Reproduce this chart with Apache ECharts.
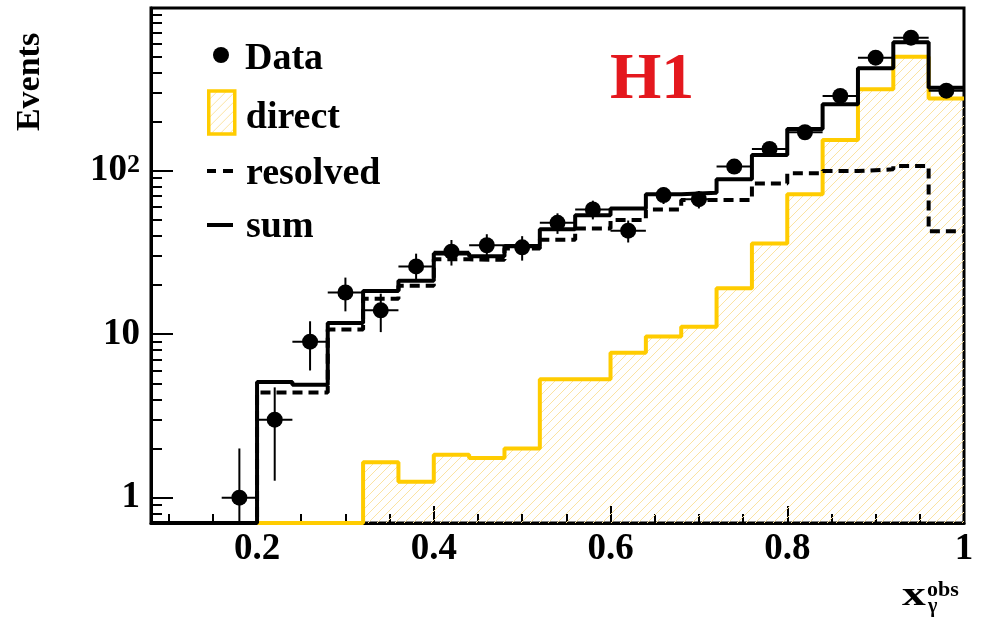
<!DOCTYPE html>
<html>
<head>
<meta charset="utf-8">
<script src="https://cdn.jsdelivr.net/npm/echarts@6/dist/echarts.min.js"></script>
<style>
  html, body { margin: 0; padding: 0; background: #fff; }
  #chart { width: 986px; height: 627px; }
</style>
</head>
<body>
<div id="chart"></div>
<script>
// Histogram bin edges in x_gamma^obs (bins of 0.04)
const binEdges = [0.08, 0.12, 0.16, 0.20, 0.24, 0.28, 0.32, 0.36, 0.40, 0.44, 0.48, 0.52,
                  0.56, 0.60, 0.64, 0.68, 0.72, 0.76, 0.80, 0.84, 0.88, 0.92, 0.96, 1.00];

// Monte Carlo predictions per bin (events)
const directMC   = [0, 0, 0, 0, 0, 0, 1.65, 1.25, 1.83, 1.75, 2.0, 5.3, 5.3, 7.7, 9.7, 11.1,
                    19.1, 35.9, 71.9, 154, 315, 499, 277];
const resolvedMC = [0, 0, 0, 4.4, 4.4, 10.7, 16.5, 19.8, 28.7, 28.5, 33.5, 37.8, 44.4, 49.9,
                    58.0, 66.2, 66.2, 83.7, 96.4, 99.6, 102, 107, 42.7];
const sumMC      = [0, 0, 0, 5.1, 4.9, 11.7, 18.4, 21.2, 31.2, 30.0, 34.6, 43.8, 53.5, 58.8,
                    71.9, 73.3, 88.6, 125, 180, 255, 424, 611, 322];

// Measured data: bin centres, counts and statistical errors
const dataX   = [0.18, 0.22, 0.26, 0.30, 0.34, 0.38, 0.42, 0.46, 0.50, 0.54, 0.58, 0.62,
                 0.66, 0.70, 0.74, 0.78, 0.82, 0.86, 0.90, 0.94, 0.98];
const dataY   = [1, 3, 9, 18, 14, 26, 32, 35, 34, 48, 58, 43, 71, 67, 106, 136, 172, 287, 492, 652, 309];
const dataErr = [1, 1.73, 3, 4.2, 3.7, 5.1, 5.7, 5.9, 5.8, 6.9, 7.6, 6.6, 8.4, 8.2, 10.3, 11.7,
                 13.1, 16.9, 22.2, 25.5, 17.6];
const binHalfWidth = 0.02;

// Axis ticks and labels
const xTickLabels = [0.2, 0.4, 0.6, 0.8, 1.0];
const xMinorTicks = [0.10, 0.15, 0.25, 0.30, 0.35, 0.45, 0.50, 0.55, 0.65, 0.70, 0.75, 0.85, 0.90, 0.95];
const yTickLabels = [1, 10, 100];
const yMinorTicks = [0.8, 0.9, 2, 3, 4, 5, 6, 7, 8, 9, 20, 30, 40, 50, 60, 70, 80, 90,
                     200, 300, 400, 500, 600, 700, 800, 900];

const xRange = [0.08, 1.0];
const yRange = [0.7, 990];

const SERIF = "'Liberation Serif', 'Times New Roman', 'DejaVu Serif', serif";
const YELLOW = '#ffcc00';

// Diagonal hatch used for the direct-photon histogram
const hatch = document.createElement('canvas');
hatch.width = 9; hatch.height = 9;
(function () {
  const g = hatch.getContext('2d');
  g.strokeStyle = '#fbe3a2';
  g.lineWidth = 1;
  g.beginPath();
  g.moveTo(0, 9); g.lineTo(9, 0);
  g.moveTo(-1, 1); g.lineTo(1, -1);
  g.moveTo(8, 10); g.lineTo(10, 8);
  g.stroke();
})();
const hatchFill = { image: hatch, repeat: 'repeat' };

// Step-histogram points: one per left edge plus the final right edge
function histPoints(values) {
  return binEdges.map(function (e, i) {
    const v = values[Math.min(i, values.length - 1)];
    return [e, v > 0 ? v : yRange[0]];
  });
}

const chart = echarts.init(document.getElementById('chart'), null, { renderer: 'canvas' });

const labelFont = { fontFamily: SERIF, fontWeight: 'bold', fontSize: 37, color: '#000' };

// One legend block per entry so each glyph can have its own size and text offset
function legendEntry(top, left, itemHeight, padTop, padLeft, item) {
  return {
    orient: 'vertical', left: left, top: top, itemWidth: 26, itemHeight: itemHeight, itemGap: 0,
    selectedMode: false, padding: 0,
    formatter: function (name) { return '{t|' + name + '}'; },
    textStyle: {
      fontFamily: SERIF, fontWeight: 'bold', fontSize: 38, color: '#000',
      rich: { t: { fontFamily: SERIF, fontWeight: 'bold', fontSize: 38, lineHeight: 38, color: '#000',
                   padding: [padTop, 0, 0, padLeft] } }
    },
    data: [item]
  };
}

// Legend glyphs for the line histograms
const iconSolid  = 'path://M0,0H26V4H0Z';
const iconDashed = 'path://M0,0H9V4H0Z M16,0H26V4H16Z';

const option = {
  animation: false,
  backgroundColor: '#fff',
  grid: { left: 151, top: 8, width: 813, height: 515, show: true, borderColor: '#000', borderWidth: 3, containLabel: false },
  xAxis: [
    {
      type: 'value', min: xRange[0], max: xRange[1],
      axisLine: { show: true, onZero: false, lineStyle: { color: '#000', width: 3 } },
      splitLine: { show: false },
      axisTick: { show: true, inside: true, length: 17, customValues: xTickLabels, lineStyle: { color: '#000', width: 2 } },
      axisLabel: Object.assign({ customValues: xTickLabels, margin: 8,
        formatter: function (v) { return String(Math.round(v * 10) / 10); } }, labelFont)
    },
    {
      type: 'value', min: xRange[0], max: xRange[1], position: 'bottom',
      axisLine: { show: false }, splitLine: { show: false }, axisLabel: { show: false },
      axisTick: { show: true, inside: true, length: 9, customValues: xMinorTicks, lineStyle: { color: '#000', width: 2 } }
    }
  ],
  yAxis: [
    {
      type: 'log', logBase: 10, min: yRange[0], max: yRange[1],
      axisLine: { show: true, onZero: false, lineStyle: { color: '#000', width: 3 } },
      splitLine: { show: false },
      axisTick: { show: true, inside: true, length: 22, customValues: yTickLabels, lineStyle: { color: '#000', width: 2 } },
      axisLabel: Object.assign({
        customValues: yTickLabels, margin: 11,
        formatter: function (v) {
          const p = Math.round(Math.log10(v));
          return p >= 2 ? '{b|10}{s|' + p + '}' : String(Math.round(v));
        },
        rich: {
          b: { fontFamily: SERIF, fontWeight: 'bold', fontSize: 37, color: '#000' },
          s: { fontFamily: SERIF, fontWeight: 'bold', fontSize: 26, color: '#000', verticalAlign: 'top' }
        }
      }, labelFont)
    },
    {
      type: 'log', logBase: 10, min: yRange[0], max: yRange[1], position: 'left',
      axisLine: { show: false }, splitLine: { show: false }, axisLabel: { show: false },
      axisTick: { show: true, inside: true, length: 11, customValues: yMinorTicks, lineStyle: { color: '#000', width: 2 } }
    }
  ],
  legend: [
    legendEntry(32, 213, 16, 8, 6, { name: 'Data', icon: 'circle', itemStyle: { color: '#000', opacity: 1 } }),
    legendEntry(88, 207, 43, 11, 6, { name: 'direct', icon: 'rect',
      itemStyle: { color: hatchFill, borderColor: YELLOW, borderWidth: 3.5 } }),
    legendEntry(149, 207, 15, 6, 8, { name: 'resolved', icon: iconDashed, itemStyle: { color: '#000', borderWidth: 0 } }),
    legendEntry(204, 207, 15, 4, 8, { name: 'sum', icon: iconSolid, itemStyle: { color: '#000', borderWidth: 0 } })
  ],
  graphic: [
    { type: 'text', left: 610, top: 48, style: { text: 'H1', fill: '#e4181e', font: "bold 66px " + SERIF } },
    { type: 'text', x: 30, y: 82, rotation: Math.PI / 2,
      style: { text: 'Events', fill: '#000', font: "bold 34px " + SERIF, align: 'center', verticalAlign: 'middle' } },
    { type: 'text', x: 902, y: 613, scaleX: 1.4, style: { text: 'x', fill: '#000', font: "bold 34px " + SERIF, align: 'left', verticalAlign: 'bottom' } },
    { type: 'text', x: 927, y: 601, style: { text: 'obs', fill: '#000', font: "bold 22px " + SERIF, align: 'left', verticalAlign: 'bottom' } },
    { type: 'text', x: 928, y: 597, style: { text: 'γ', fill: '#000', font: "bold 20px " + SERIF, align: 'left', verticalAlign: 'top' } }
  ],
  series: [
    {
      name: 'direct', type: 'line', step: 'end', data: histPoints(directMC),
      symbol: 'none', z: 2,
      lineStyle: { color: YELLOW, width: 4 },
      itemStyle: { color: YELLOW },
      areaStyle: { origin: 'start', color: hatchFill, opacity: 1 }
    },
    {
      name: 'resolved', type: 'line', step: 'end', data: histPoints(resolvedMC),
      symbol: 'none', z: 3,
      lineStyle: { color: '#000', width: 4, type: [10, 6] },
      itemStyle: { color: '#000' }
    },
    {
      name: 'sum', type: 'line', step: 'end', data: histPoints(sumMC),
      symbol: 'none', z: 4,
      lineStyle: { color: '#000', width: 4 },
      itemStyle: { color: '#000' }
    },
    {
      name: 'errors', type: 'custom', z: 5, clip: true,
      data: dataX.map(function (x, i) { return [x, dataY[i], dataErr[i]]; }),
      renderItem: function (params, api) {
        const x = api.value(0), y = api.value(1), e = api.value(2);
        const lo = api.coord([x, Math.max(y - e, yRange[0])]);
        const hi = api.coord([x, y + e]);
        const l = api.coord([x - binHalfWidth, y]);
        const r = api.coord([x + binHalfWidth, y]);
        const st = { stroke: '#000', lineWidth: 2 };
        return {
          type: 'group',
          children: [
            { type: 'line', shape: { x1: lo[0], y1: lo[1], x2: hi[0], y2: hi[1] }, style: st },
            { type: 'line', shape: { x1: l[0], y1: l[1], x2: r[0], y2: r[1] }, style: st }
          ]
        };
      }
    },
    {
      name: 'Data', type: 'scatter', z: 6,
      data: dataX.map(function (x, i) { return [x, dataY[i]]; }),
      symbol: 'circle', symbolSize: 16,
      itemStyle: { color: '#000', opacity: 1 }
    }
  ]
};

chart.setOption(option);
</script>
</body>
</html>
